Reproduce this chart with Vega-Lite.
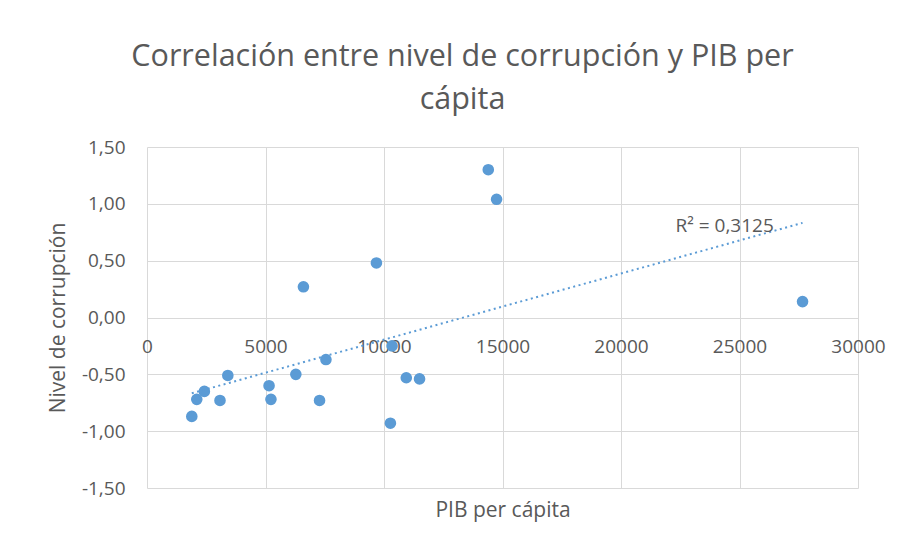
{
  "$schema": "https://vega.github.io/schema/vega-lite/v6.json",
  "width": 711,
  "height": 341,
  "autosize": {"type": "none"},
  "padding": {"left": 147, "top": 147, "right": 43, "bottom": 58},
  "background": "white",
  "config": {
    "locale": {"number": {"decimal": ",", "thousands": ".", "grouping": [3], "currency": ["", " €"], "minus": "-"}},
    "font": "Open Sans",
    "view": {"stroke": null},
    "axis": {
      "gridColor": "#d9d9d9",
      "gridWidth": 1,
      "ticks": false,
      "domain": false,
      "labelFlush": false,
      "labelColor": "#595959",
      "labelFont": "Open Sans",
      "labelFontSize": 19,
      "titleColor": "#595959",
      "titleFont": "Open Sans",
      "titleFontSize": 21,
      "titleFontWeight": "normal"
    }
  },
  "title": {
    "text": ["Correlación entre nivel de corrupción y PIB per", "cápita"],
    "font": "Open Sans",
    "fontSize": 30.5,
    "fontWeight": "normal",
    "color": "#595959",
    "anchor": "middle",
    "dx": -40,
    "lineHeight": 43,
    "offset": 23
  },
  "datasets": {
    "paises": [
      {"pib": 1890, "corrupcion": -0.87},
      {"pib": 2100, "corrupcion": -0.72},
      {"pib": 2420, "corrupcion": -0.65},
      {"pib": 3080, "corrupcion": -0.73},
      {"pib": 3410, "corrupcion": -0.51},
      {"pib": 5150, "corrupcion": -0.60},
      {"pib": 5230, "corrupcion": -0.72},
      {"pib": 6280, "corrupcion": -0.50},
      {"pib": 6600, "corrupcion": 0.27},
      {"pib": 7280, "corrupcion": -0.73},
      {"pib": 7550, "corrupcion": -0.37},
      {"pib": 9680, "corrupcion": 0.48},
      {"pib": 10270, "corrupcion": -0.93},
      {"pib": 10340, "corrupcion": -0.25},
      {"pib": 10940, "corrupcion": -0.53},
      {"pib": 11500, "corrupcion": -0.54},
      {"pib": 14400, "corrupcion": 1.30},
      {"pib": 14750, "corrupcion": 1.04},
      {"pib": 27660, "corrupcion": 0.14}
    ],
    "anotacion": [
      {"etiqueta": "R² = 0,3125"}
    ]
  },
  "layer": [
    {
      "data": {"name": "paises"},
      "mark": {"type": "circle", "color": "#5b9bd5", "size": 135, "opacity": 1},
      "encoding": {
        "x": {
          "field": "pib",
          "type": "quantitative",
          "scale": {"domain": [0, 30000], "nice": false, "zero": false},
          "axis": {
            "values": [0, 5000, 10000, 15000, 20000, 25000, 30000],
            "format": "d",
            "labelPadding": 20,
            "offset": -170.5,
            "title": "PIB per cápita",
            "titleY": 198.7,
            "titleBaseline": "alphabetic",
            "grid": true
          }
        },
        "y": {
          "field": "corrupcion",
          "type": "quantitative",
          "scale": {"domain": [-1.5, 1.5], "nice": false, "zero": false},
          "axis": {
            "values": [-1.5, -1, -0.5, 0, 0.5, 1, 1.5],
            "format": ".2f",
            "labelPadding": 22,
            "title": "Nivel de corrupción",
            "titleX": -83,
            "titleY": 170.5,
            "titleAngle": -90,
            "titleAlign": "center",
            "titleBaseline": "alphabetic",
            "grid": true
          }
        }
      }
    },
    {
      "data": {"name": "paises"},
      "transform": [{"regression": "corrupcion", "on": "pib"}],
      "mark": {"type": "line", "color": "#5b9bd5", "strokeWidth": 2, "strokeDash": [2, 3.5]},
      "encoding": {
        "x": {"field": "pib", "type": "quantitative"},
        "y": {"field": "corrupcion", "type": "quantitative"}
      }
    },
    {
      "data": {"name": "anotacion"},
      "mark": {"type": "text", "align": "left", "baseline": "alphabetic", "fontSize": 19, "color": "#595959", "font": "Open Sans"},
      "encoding": {
        "text": {"field": "etiqueta", "type": "nominal"},
        "x": {"datum": 22300, "type": "quantitative"},
        "y": {"datum": 0.755, "type": "quantitative"}
      }
    }
  ]
}
